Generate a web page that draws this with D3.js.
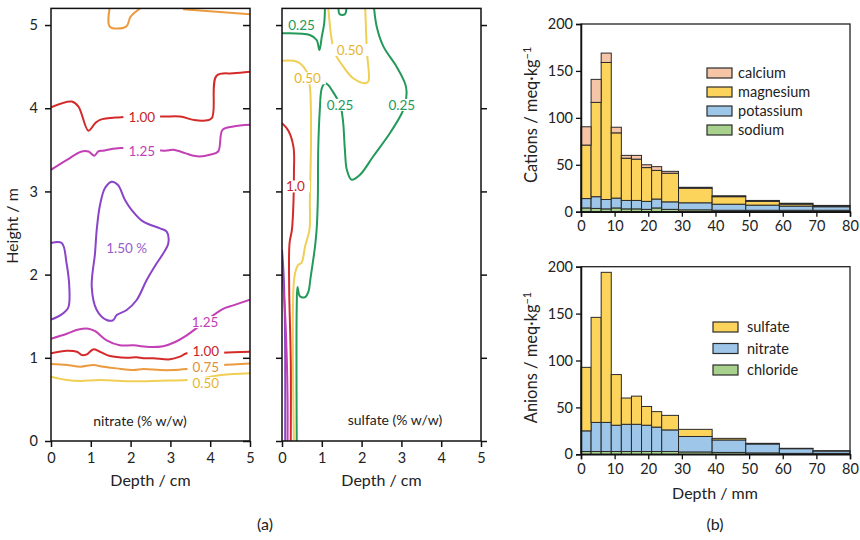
<!DOCTYPE html>
<html><head><meta charset="utf-8">
<script src="https://cdn.jsdelivr.net/npm/d3@7"></script>
<style>
body{margin:0;background:#fff}
svg{font-family:Lato,"Open Sans",sans-serif}
</style>
</head><body>
<svg id="c" width="860" height="540"></svg>
<script>
// ---------------- DATA ----------------
const heightTicks = [0,1,2,3,4,5];
const depthCmTicks = [0,1,2,3,4,5];
const depthMmTicks = [0,10,20,30,40,50,60,70,80];
const meqTicks = [0,50,100,150,200];

// nitrate contours (depth cm, height m)
const nitrate050 = [[0,0.773],[0.40,0.733],[0.73,0.721],[1.23,0.733],[2.07,0.717],[2.74,0.725],[3.41,0.733],[3.87,0.76],[4.29,0.793],[5.0,0.813]];
const nitrate075 = [[0,0.925],[0.40,0.913],[0.74,0.893],[1.06,0.913],[1.31,0.893],[1.65,0.873],[2.07,0.853],[2.32,0.865],[2.74,0.853],[3.07,0.853],[3.41,0.865],[3.87,0.89],[4.29,0.913],[5.0,0.933]];
const nitrate075topA = [[1.48,5.22],[1.48,4.98],[1.89,4.98],[2.0,5.1],[2.3,5.22]];
const nitrate075topB = [[3.32,5.19],[5.0,5.13]];
const nitrate100 = [[0,1.054],[0.40,1.085],[0.65,1.073],[0.78,1.033],[0.90,1.041],[1.06,1.101],[1.23,1.073],[1.48,1.022],[1.90,1.002],[2.15,1.006],[2.32,0.994],[2.57,0.994],[2.99,0.982],[3.24,1.014],[3.41,1.054],[4.29,1.061],[5.0,1.073]];
const nitrate100top = [[0,4.01],[0.52,4.08],[0.69,4.02],[0.94,3.73],[1.11,3.82],[1.23,3.86],[1.69,3.89],[2.86,3.90],[3.24,3.90],[3.58,3.86],[3.83,3.85],[4.04,3.88],[4.16,4.39],[4.58,4.42],[5.0,4.44]];
const nitrate125 = [[0,1.23],[0.40,1.29],[0.69,1.34],[0.94,1.35],[1.11,1.32],[1.40,1.21],[1.73,1.15],[2.07,1.15],[2.49,1.13],[2.82,1.14],[3.12,1.19],[3.41,1.27],[4.29,1.58],[4.58,1.63],[5.0,1.70]];
const nitrate125top = [[0,3.26],[0.4,3.38],[0.77,3.48],[0.94,3.48],[1.09,3.43],[1.19,3.48],[1.31,3.49],[1.69,3.52],[2.86,3.49],[3.07,3.50],[3.37,3.46],[3.58,3.43],[3.74,3.42],[3.99,3.44],[4.2,3.48],[4.31,3.74],[4.58,3.78],[5.0,3.80]];
const nitrate150edge = [[0,2.38],[0.27,2.38],[0.39,2.14],[0.46,1.85],[0.43,1.60],[0.23,1.51],[0,1.46]];
const nitrate150loop = [[1.525,3.117],[1.683,3.077],[1.859,2.897],[2.028,2.776],[2.319,2.636],[2.739,2.556],[2.907,2.516],[2.947,2.376],[2.822,2.256],[2.656,2.136],[2.405,1.935],[2.153,1.695],[1.902,1.575],[1.651,1.514],[1.565,1.454],[1.399,1.454],[1.148,1.575],[1.023,1.855],[1.106,2.256],[1.148,2.536],[1.231,2.837],[1.357,3.041]];
const nitrateLabels = [
  {t:"1.00",x:2.28,y:3.89,lv:"1.00"},{t:"1.25",x:2.28,y:3.49,lv:"1.25"},
  {t:"1.50 %",x:1.90,y:2.32,lv:"1.50"},{t:"1.25",x:3.87,y:1.43,lv:"1.25"},
  {t:"1.00",x:3.89,y:1.08,lv:"1.00"},{t:"0.75",x:3.89,y:0.89,lv:"0.75"},
  {t:"0.50",x:3.89,y:0.695,lv:"0.50"}];

// sulfate contours
const sulfate025a = [[0,4.90],[0.70,4.88],[0.87,4.82],[0.94,4.70],[1.00,4.86],[1.06,5.02],[1.08,5.22]];
const sulfate025b = [[2.31,5.22],[2.38,4.98],[2.55,4.74],[2.88,4.50],[3.09,4.30],[3.13,4.20],[3.09,4.04],[3.01,3.94],[2.71,3.70],[2.29,3.42],[1.96,3.20],[1.75,3.14],[1.63,3.26],[1.58,3.50],[1.53,3.86],[1.46,4.04],[1.25,4.22],[1.16,4.28],[1.08,4.30],[1.00,4.24],[0.95,3.98],[0.91,3.50],[0.90,2.90],[0.87,2.54],[0.83,2.34],[0.72,1.97],[0.66,1.79],[0.58,1.73],[0.45,1.74],[0.39,1.85],[0.37,1.61],[0.37,0]];
const sulfate025c = [[1.42,5.22],[1.45,5.13],[1.58,5.13],[1.62,5.22]];
const sulfate050a = [[1.16,5.22],[1.25,4.82],[1.33,4.66],[1.54,4.50],[1.79,4.36],[2.09,4.30],[2.17,4.32],[2.13,4.70],[2.09,5.22]];
const sulfate050b = [[0,4.57],[0.29,4.57],[0.45,4.54],[0.62,4.44],[0.70,4.26],[0.73,3.70],[0.70,2.90],[0.69,2.54],[0.58,2.34],[0.49,2.14],[0.41,2.12],[0.34,2.04],[0.29,1.86],[0.30,0]];
const sulfate100 = [[0,3.82],[0.16,3.73],[0.29,3.53],[0.30,3.22],[0.29,2.90],[0.25,2.54],[0.19,2.38],[0.18,1.85],[0.22,0.97],[0.22,0]];
const sulfate125 = [[0,2.05],[0.07,1.6],[0.12,1.0],[0.14,0.5],[0.14,0]];
const sulfate150 = [[0,2.30],[0.04,2.0],[0.07,1.5],[0.08,1.0],[0.08,0]];
const sulfateLabels = [
  {t:"0.25",x:0.49,y:5.0,lv:"0.25"},{t:"0.50",x:1.71,y:4.70,lv:"0.50"},
  {t:"0.50",x:0.64,y:4.36,lv:"0.50"},{t:"0.25",x:1.46,y:4.04,lv:"0.25"},
  {t:"0.25",x:3.01,y:4.04,lv:"0.25"},{t:"1.0",x:0.34,y:3.06,lv:"1.00"}];

// histograms
const binEdges = [0,3,6,9,12,15,18,21,24,29,39,49,59,69,80];
const sodium    = [4,3.5,3,4,3,3,2.5,4,2.5,2,1.5,1.5,1.5,1.5];
const potassium = [10,12.5,10,10.5,9,9,8.5,9.5,8,7.5,6.5,5.5,4.5,3.8];
const magnesium = [57,100.5,146,69.5,45,44,36,30.5,30.5,15.5,8,4,2,0.7];
const calcium   = [19.5,24.5,10,6,3,4,3,4,2,1,1,1,1,0.7];
const chloride  = [3,3,3,3,3,3,3,3,3,2.5,2,1.5,1,1];
const nitrate   = [22,31,31,28,29,29,28,26,23,16.5,13.3,9.5,5,2.5];
const sulfate   = [67.7,112,160,54,28,30,20,16.5,15.5,7.6,1.7,0.7,0.4,0.4];
const cationKeys = ["sodium","potassium","magnesium","calcium"];
const anionKeys = ["chloride","nitrate","sulfate"];

// ---------------- DRAW ----------------
const svg = d3.select("#c");
const lvColor = {"0.25":"#23995a","0.50":"#f0cf55","0.75":"#ec9a40","1.00":"#d42a2a","1.25":"#c23fb5","1.50":"#8a44c8"};
const lblColor = {"0.25":"#23995a","0.50":"#e6b52e","0.75":"#e0913a","1.00":"#c8242a","1.25":"#c23fb5","1.50":"#9a5ccc"};
const fill = {calcium:"#f6c5a8",magnesium:"#fcd45c",potassium:"#9dc6e8",sodium:"#a9d18e",chloride:"#a9d18e",nitrate:"#9dc6e8",sulfate:"#fcd45c"};

const yH = d3.scaleLinear().domain([0,5.2]).range([441,8.4]);

function contourPanel(x0,x1,lines,labels,id,showY,note){
  const x = d3.scaleLinear().domain([0,5]).range([x0,x1]);
  const g = svg.append("g");
  svg.append("clipPath").attr("id",id).append("rect").attr("x",x0).attr("y",yH(5.2)).attr("width",x1-x0).attr("height",yH(0)-yH(5.2));
  const cg = g.append("g").attr("clip-path",`url(#${id})`);
  lines.forEach(L=>{
    const gen = d3.line().x(d=>x(d[0])).y(d=>yH(d[1])).curve(L.closed?d3.curveCatmullRomClosed.alpha(0.5):d3.curveCatmullRom.alpha(0.5));
    cg.append("path").attr("d",gen(L.d)).attr("fill","none").attr("stroke",lvColor[L.lv]).attr("stroke-width",2).attr("stroke-linejoin","round");
  });
  labels.forEach(l=>{
    const t = cg.append("text").attr("x",x(l.x)).attr("y",yH(l.y)).attr("dy","0.36em").attr("text-anchor","middle")
      .attr("font-size",13.5).attr("fill",lblColor[l.lv]).text(l.t);
    const w = t.node().getComputedTextLength();
    cg.insert("rect","text").attr("x",x(l.x)-w/2-5).attr("y",yH(l.y)-6).attr("width",w+10).attr("height",12).attr("fill","#fff");
  });
  g.append("rect").attr("x",x0).attr("y",yH(5.2)).attr("width",x1-x0).attr("height",yH(0)-yH(5.2)).attr("fill","none").attr("stroke","#111").attr("stroke-width",1.5);
  const ax = g.append("g").attr("transform",`translate(0,${yH(0)})`).call(d3.axisBottom(x).tickValues(depthCmTicks).tickSize(6).tickPadding(6).tickFormat(d3.format("d")));
  const ayL = g.append("g").attr("transform",`translate(${x0},0)`).call(d3.axisLeft(yH).tickValues(heightTicks).tickSize(6).tickPadding(7).tickFormat(showY?d3.format("d"):""));
  const ayR = g.append("g").attr("transform",`translate(${x1},0)`).call(showY?d3.axisLeft(yH).tickValues(heightTicks).tickSize(7).tickFormat(""):d3.axisRight(yH).tickValues(heightTicks).tickSize(6).tickFormat(""));
  [ax,ayL,ayR].forEach(a=>{a.select(".domain").remove();a.selectAll("line").attr("stroke","#111").attr("stroke-width",1.5);a.selectAll("text").attr("font-size",14.5).attr("fill","#222").attr("font-family","Lato,sans-serif");});
  g.append("text").attr("x",(x0+x1)/2).attr("y",486).attr("text-anchor","middle").attr("font-size",16).attr("fill","#222").text("Depth / cm");
  g.append("text").attr("x",note.x).attr("y",note.y).attr("text-anchor","middle").attr("font-size",14).attr("fill","#222").text(note.t);
}

contourPanel(51,250,[
  {d:nitrate050,lv:"0.50"},{d:nitrate075,lv:"0.75"},{d:nitrate075topA,lv:"0.75"},{d:nitrate075topB,lv:"0.75"},
  {d:nitrate100,lv:"1.00"},{d:nitrate100top,lv:"1.00"},{d:nitrate125,lv:"1.25"},{d:nitrate125top,lv:"1.25"},
  {d:nitrate150edge,lv:"1.50"},{d:nitrate150loop,lv:"1.50",closed:true}
],nitrateLabels,"clipA",true,{t:"nitrate (% w/w)",x:140,y:426});

contourPanel(282,481,[
  {d:sulfate150,lv:"1.50"},{d:sulfate125,lv:"1.25"},{d:sulfate100,lv:"1.00"},{d:sulfate050a,lv:"0.50"},{d:sulfate050b,lv:"0.50"},
  {d:sulfate025a,lv:"0.25"},{d:sulfate025b,lv:"0.25"},{d:sulfate025c,lv:"0.25"}
],sulfateLabels,"clipB",false,{t:"sulfate (% w/w)",x:395,y:425});

svg.append("text").attr("transform","translate(18,226) rotate(-90)").attr("text-anchor","middle").attr("font-size",16).attr("fill","#222").text("Height / m");
svg.append("text").attr("x",265).attr("y",530).attr("text-anchor","middle").attr("font-size",16).attr("fill","#222").text("(a)");
svg.append("text").attr("x",715).attr("y",530).attr("text-anchor","middle").attr("font-size",16).attr("fill","#222").text("(b)");

function histPanel(y0,y1,series,keys,legendItems,title,leg){
  const x = d3.scaleLinear().domain([0,80]).range([581,850]);
  const y = d3.scaleLinear().domain([0,200]).range([y0,y1]);
  const g = svg.append("g");
  const rows = binEdges.slice(0,-1).map((e,i)=>{const r={a:e,b:binEdges[i+1]};keys.forEach(k=>r[k]=series[k][i]);return r;});
  const stack = d3.stack().keys(keys)(rows);
  stack.forEach(s=>{
    g.append("g").selectAll("rect").data(s).join("rect")
      .attr("x",d=>x(d.data.a)).attr("width",d=>x(d.data.b)-x(d.data.a))
      .attr("y",d=>y(d[1])).attr("height",d=>y(d[0])-y(d[1]))
      .attr("fill",fill[s.key]).attr("stroke","#2a2a2a").attr("stroke-width",1);
  });
  g.append("rect").attr("x",581).attr("y",y1).attr("width",269).attr("height",y0-y1).attr("fill","none").attr("stroke","#222").attr("stroke-width",1.3);
  const ax = g.append("g").attr("transform",`translate(0,${y0})`).call(d3.axisBottom(x).tickValues(depthMmTicks).tickSize(5).tickPadding(4));
  const ay = g.append("g").attr("transform",`translate(581,0)`).call(d3.axisLeft(y).tickValues(meqTicks).tickSize(5).tickPadding(3));
  [ax,ay].forEach(a=>{a.select(".domain").attr("stroke","#111").attr("stroke-width",1.5);a.selectAll("line").attr("stroke","#111").attr("stroke-width",1.3);a.selectAll("text").attr("font-size",14.5).attr("fill","#222").attr("font-family","Lato,sans-serif");});
  const t = svg.append("text").attr("transform",`translate(537,${(y0+y1)/2 - 3}) rotate(-90)`).attr("text-anchor","middle").attr("font-size",16.5).attr("fill","#222");
  t.append("tspan").text(title);
  t.append("tspan").attr("font-size",11).attr("dy",-6).text("−1");
  legendItems.forEach((k,i)=>{
    const yy = leg.y + i*leg.dy;
    g.append("rect").attr("x",leg.x).attr("y",yy-5).attr("width",25).attr("height",10).attr("fill",fill[k]).attr("stroke","#2a2a2a").attr("stroke-width",1.2);
    g.append("text").attr("x",leg.tx).attr("y",yy).attr("dy","0.35em").attr("font-size",14.5).attr("fill","#222").text(k);
  });
}
histPanel(211.7,24,{sodium,potassium,magnesium,calcium},cationKeys,["calcium","magnesium","potassium","sodium"],"Cations / meq·kg",{x:707,tx:738,y:73,dy:19});
histPanel(454.3,266.7,{chloride,nitrate,sulfate},anionKeys,["sulfate","nitrate","chloride"],"Anions / meq·kg",{x:713,tx:747,y:327,dy:21.5});
svg.append("text").attr("x",715).attr("y",499).attr("text-anchor","middle").attr("font-size",16).attr("fill","#222").text("Depth / mm");
</script>
</body></html>
